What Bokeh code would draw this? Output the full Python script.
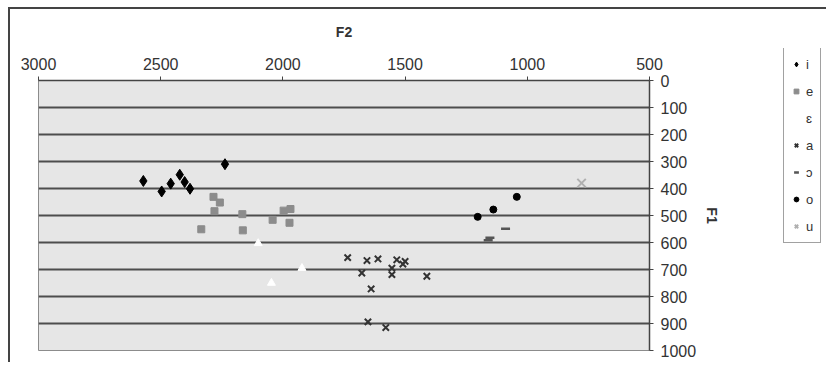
from bokeh.plotting import figure
from bokeh.layouts import row
from bokeh.models import Range1d, FixedTicker, Legend, LegendItem
from bokeh.embed import file_html
from bokeh.resources import INLINE

# ---- data (F2, F1 in Hz) ----
i_f2 = [2571, 2496, 2459, 2422, 2402, 2380, 2237]
i_f1 = [372, 411, 382, 349, 376, 401, 310]

e_f2 = [2284, 2258, 2280, 2334, 2166, 2164, 2042, 1997, 1969, 1973]
e_f1 = [431, 452, 484, 551, 495, 555, 516, 482, 476, 527]

eps_f2 = [2101, 1922, 2047]
eps_f1 = [603, 695, 750]

a_f2 = [1735, 1677, 1656, 1611, 1639, 1554, 1554, 1534, 1509, 1500, 1411, 1652, 1579]
a_f1 = [656, 713, 667, 661, 772, 719, 695, 664, 680, 670, 725, 894, 915]

oo_f2 = [1153, 1160, 1089]
oo_f1 = [582, 592, 549]

o_f2 = [1203, 1139, 1043]
o_f1 = [505, 478, 431]

u_f2 = [778]
u_f1 = [380]

x_ticks = [3000, 2500, 2000, 1500, 1000, 500]
y_ticks = [0, 100, 200, 300, 400, 500, 600, 700, 800, 900, 1000]
labels = ["i", "e", "ɛ", "a", "ɔ", "o", "u"]

FONT = "Liberation Sans"

styles = [
    dict(marker="diamond", size=11, fill_color="black", line_color="black"),
    dict(marker="square", size=7, fill_color="#8c8c8c", line_color="#8c8c8c"),
    dict(marker="triangle", size=8, fill_color="white", line_color="white"),
    dict(marker="x", size=9, line_color="#333333", line_width=2),
    dict(marker="dash", size=9, line_color="#555555", line_width=2.5),
    dict(marker="circle", size=7, fill_color="black", line_color="black"),
    dict(marker="x", size=12, line_color="#b0b0b0", line_width=2),
]
series = [(i_f2, i_f1), (e_f2, e_f1), (eps_f2, eps_f1), (a_f2, a_f1),
          (oo_f2, oo_f1), (o_f2, o_f1), (u_f2, u_f1)]

p = figure(width=730, height=353,
           x_range=Range1d(3000, 500), y_range=Range1d(1000, 0),
           x_axis_location="above", y_axis_location="right",
           output_backend="svg", toolbar_location=None,
           min_border_left=28, min_border_right=91,
           min_border_top=71, min_border_bottom=12,
           background_fill_color="#e6e6e6", border_fill_color="white",
           outline_line_color="#8c8c8c", outline_line_width=1)

p.xgrid.grid_line_color = None
p.ygrid.grid_line_color = "#4d4d4d"
p.ygrid.grid_line_width = 2
p.ygrid.ticker = FixedTicker(ticks=y_ticks)

for ax in (p.xaxis[0], p.yaxis[0]):
    ax.major_tick_in = 0
    ax.major_tick_out = 4
    ax.minor_tick_line_color = None
    ax.axis_line_color = "#444444"
    ax.axis_line_width = 1.5
    ax.major_tick_line_color = "#444444"
    ax.major_label_text_font = FONT
    ax.major_label_text_font_size = "16px"
    ax.major_label_text_color = "#333333"
    ax.axis_label_text_font = FONT
    ax.axis_label_text_font_size = "14px"
    ax.axis_label_text_font_style = "bold"
    ax.axis_label_text_color = "#333333"

p.xaxis[0].ticker = FixedTicker(ticks=x_ticks)
p.xaxis[0].major_label_standoff = 7
p.xaxis[0].axis_label = "F2"
p.xaxis[0].axis_label_standoff = 15
p.yaxis[0].ticker = FixedTicker(ticks=y_ticks)
p.yaxis[0].major_label_standoff = 7
p.yaxis[0].axis_label = "F1"
p.yaxis[0].axis_label_standoff = 5

for (xs, ys), st in zip(series, styles):
    p.scatter(xs, ys, **st)

# legend panel: a separate small figure so the legend can sit right of the F1 axis.
# Its ranges exclude the data, so only the legend is visible there.
lf = figure(width=86, height=353, x_range=Range1d(0, 1), y_range=Range1d(0, 1),
            x_axis_location=None, y_axis_location=None,
            output_backend="svg", toolbar_location=None, min_border=0,
            background_fill_alpha=0, border_fill_alpha=0,
            outline_line_color=None)
lf.grid.visible = False
items = []
for lab, (xs, ys), st in zip(labels, series, styles):
    r = lf.scatter(xs, ys, **st)
    items.append(LegendItem(label=lab, renderers=[r]))
legend = Legend(items=items, location=(43, 75), orientation="vertical", margin=0,
                padding=6, spacing=7, glyph_height=20, label_height=20,
                glyph_width=12, label_width=8, label_standoff=4,
                label_text_font=FONT, label_text_font_size="13px",
                label_text_color="#333333",
                border_line_color="#444444", border_line_width=1.5,
                background_fill_color="white", background_fill_alpha=1)
lf.add_layout(legend)
lf.styles = {"transform": "translateY(-32px)"}

lay = row(p, lf)
lay.styles = {"border-top": "2px solid #444", "border-left": "2px solid #444",
              "margin-left": "8px", "margin-top": "7px"}

open("out.html", "w").write(file_html(lay, INLINE))
